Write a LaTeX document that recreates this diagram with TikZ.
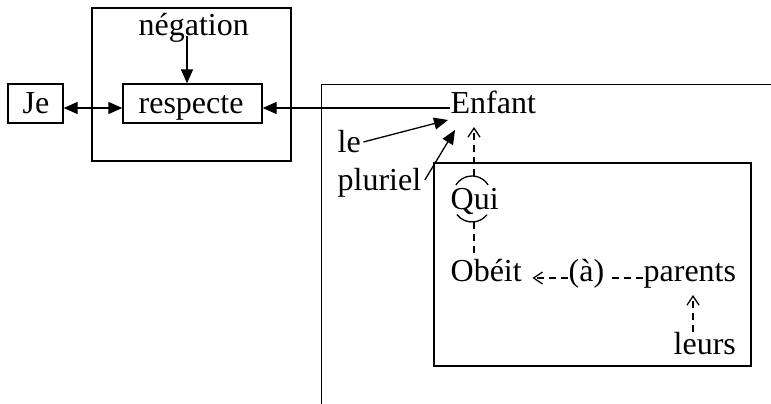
\documentclass[tikz,border=0pt]{standalone}
\usepackage{fontspec}
\setmainfont{Liberation Serif}
\usetikzlibrary{arrows.meta}
\begin{document}
\begin{tikzpicture}[x=1pt,y=-1pt,line width=1.3pt,
  lbl/.style={inner sep=0pt,anchor=base west,font=\fontsize{32}{38}\selectfont},
  boxn/.style={draw,inner sep=0pt,minimum width=#1},
  arr/.style={-{Triangle[length=14pt,width=12pt]}},
  darr/.style={dash pattern=on 7pt off 5pt,-{Straight Barb[length=9pt,width=12pt,line width=1.3pt]}},
  dln/.style={dash pattern=on 7pt off 5pt}]
\useasboundingbox (0,0) rectangle (771,404);
% boxes
\node[boxn=55pt,minimum height=39pt] (jebox) at (35.5,103.5) {};
\node[boxn=139pt,minimum height=39pt] (respbox) at (192.5,103.5) {};
\node[boxn=199pt,minimum height=153pt] (negbox) at (191.5,84.5) {};
\node[boxn=317pt,minimum height=203pt] (innerbox) at (592.5,264.5) {};
\draw (321.5,404) -- (321.5,84.5) -- (771,84.5);
% texts
\node[lbl] (je) at (22,113) {Je};
\node[lbl] (resp) at (138,113) {respecte};
\node[lbl] (neg) at (138,36) {négation};
\node[lbl] (enf) at (450,113) {Enfant};
\node[lbl] (le) at (337,152) {le};
\node[lbl] (plur) at (337,190) {pluriel};
\node[lbl] (qui) at (450,209) {Qui};
\node[lbl] (obeit) at (450,281) {Obéit};
\node[lbl] (a) at (568,281) {(à)};
\node[lbl] (par) at (643,281) {parents};
\node[lbl] (leurs) at (673,354) {leurs};
% connectors
\draw[{Triangle[length=14pt,width=12pt]}-{Triangle[length=14pt,width=12pt]}]
  ([yshift=-4.5pt]jebox.east) -- ([yshift=-4.5pt]respbox.east -| respbox.west);
\draw[arr] ([xshift=-5.5pt]respbox.north |- neg.base) -- ([xshift=-5.5pt]respbox.north);
\draw[arr] ([yshift=5pt]enf.base west) -- ([yshift=-4.5pt]respbox.east);
\draw[arr] ([shift={(2pt,10pt)}]le.base east) -- ([shift={(-2pt,-7pt)}]enf.base west);
\draw[arr] ([shift={(3pt,10pt)}]plur.base east) -- ([shift={(5pt,-17pt)}]enf.base west);
\coordinate (quitc) at (472,195);
\coordinate (quibc) at (472,203);
\draw ([shift={(32:19pt)}]quitc) arc[start angle=32,end angle=148,radius=19pt];
\draw ([shift={(218:19pt)}]quibc) arc[start angle=218,end angle=322,radius=19pt];
\draw[darr] ([shift={(2pt,19pt)}]quitc) -- ([shift={(24pt,-14pt)}]enf.base west);
\draw[dln] ([shift={(2pt,-19pt)}]quibc) -- ([shift={(24pt,27pt)}]obeit.base west);
\draw[darr] ([yshift=3pt]a.base west) -- ([shift={(10pt,3pt)}]obeit.base east);
\draw[dln] ([yshift=3pt]par.base west) -- ([shift={(4pt,3pt)}]a.base east);
\draw[darr] ([shift={(20pt,22pt)}]leurs.base west) -- ([shift={(20pt,59pt)}]leurs.base west);
\end{tikzpicture}
\end{document}
